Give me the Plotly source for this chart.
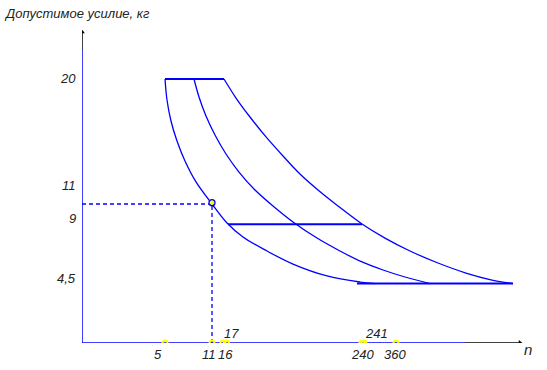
import plotly.graph_objects as go

# ---- data (schematic n-position along the x axis, force in kg) ----
curve_a_n = [83, 85, 89, 95, 103, 114, 130, 145, 161, 185, 211, 245, 278, 293]
curve_a_f = [20.0, 18.41, 16.82, 15.3, 13.79, 12.2, 10.53, 9.09, 8.03, 6.97, 5.98, 5.08, 4.62, 4.5]

curve_b_n = [112, 117, 124, 133, 144, 157, 172, 191, 211, 235, 258, 280, 301, 323, 348]
curve_b_f = [20.0, 18.64, 17.2, 15.76, 14.32, 12.95, 11.67, 10.38, 9.17, 7.95, 6.97, 6.14, 5.53, 5.0, 4.5]

curve_c_n = [142, 154, 168, 184, 201, 218, 236, 256, 280, 303, 328, 356, 384, 410, 431]
curve_c_f = [20.0, 18.56, 17.12, 15.61, 14.17, 12.8, 11.59, 10.38, 9.02, 7.95, 6.97, 6.06, 5.3, 4.77, 4.5]

top_line_n = [83, 142]
top_line_f = [20, 20]
mid_line_n = [146, 280]
mid_line_f = [9, 9]
bot_line_n = [275, 431]
bot_line_f = [4.5, 4.5]

work_point_n = 130
work_point_f = 10.53

x_tick_pos = [83, 130, 141, 144.5, 280, 282, 314]
x_tick_text = ["5", "11", "16", "17", "240", "241", "360"]
x_tick_above = [False, False, False, True, False, True, False]

y_tick_vals = [20, 11, 9, 4.5]
y_tick_text = ["20", "11", "9", "4,5"]

y_title = "Допустимое усилие, кг"
x_title = "n"

# ---- figure ----
BLUE = "#0000ff"
X_MAX = 441
Y_MAX = 313 / 13.2
font = dict(family="Liberation Sans, Arial, sans-serif", size=13, color="#222222", style="italic")

fig = go.Figure()

def line(xs, ys, width=1.3, dash="solid", color=BLUE, shape="linear"):
    fig.add_trace(go.Scatter(x=xs, y=ys, mode="lines",
                             line=dict(color=color, width=width, dash=dash, shape=shape),
                             hoverinfo="skip", showlegend=False))

# axes
axis_blue_top = (343 - 50) / 13.2
line([0, 0], [0, axis_blue_top], width=1.5)
line([0, 0], [axis_blue_top, Y_MAX - 0.1], width=1.5, color="black")
line([0, 383], [0, 0], width=1.5)
line([383, X_MAX - 2], [0, 0], width=1.5, color="black")
fig.add_trace(go.Scatter(x=[0], y=[Y_MAX - 0.15], mode="markers",
                         marker=dict(symbol="triangle-up", size=5, color="black"),
                         hoverinfo="skip", showlegend=False))
fig.add_trace(go.Scatter(x=[X_MAX - 3], y=[0], mode="markers",
                         marker=dict(symbol="triangle-right", size=5, color="black"),
                         hoverinfo="skip", showlegend=False))

# curves and limits
line(curve_a_n, curve_a_f, shape="spline")
line(curve_b_n, curve_b_f, shape="spline")
line(curve_c_n, curve_c_f, shape="spline")
line(top_line_n, top_line_f, width=2)
line(mid_line_n, mid_line_f, width=2)
line(bot_line_n, bot_line_f, width=2)

# dashed guides
line([0, work_point_n], [work_point_f, work_point_f], dash="4px,3px", width=1.3)
line([work_point_n, work_point_n], [0, work_point_f], dash="4px,3px", width=1.3)
fig.add_trace(go.Scatter(x=[work_point_n], y=[work_point_f + 0.1], mode="markers",
                         marker=dict(symbol="circle", size=6, color="#ffff00",
                                     line=dict(color=BLUE, width=1.3)),
                         hoverinfo="skip", showlegend=False))

# yellow points on x axis
fig.add_trace(go.Scatter(x=x_tick_pos, y=[0] * len(x_tick_pos), mode="markers",
                         marker=dict(symbol="circle-open", size=5, color="#ffff00",
                                     line=dict(color="#ffff00", width=2)),
                         hoverinfo="skip", showlegend=False))

annotations = []
shifts = {"5": -7, "11": -3, "16": 2, "17": 5, "240": 0, "241": 12, "360": -1}
for pos, txt, above in zip(x_tick_pos, x_tick_text, x_tick_above):
    annotations.append(dict(x=pos, y=0, xref="x", yref="y", text=txt, showarrow=False,
                            font=font, xshift=shifts[txt],
                            yshift=10 if above else -11))
y_shift = {"20": 1, "11": 12, "9": 6, "4,5": 5}
for v, txt in zip(y_tick_vals, y_tick_text):
    annotations.append(dict(x=0, y=v, xref="x", yref="y", text=txt, showarrow=False,
                            font=font, xanchor="right", xshift=-4, yshift=y_shift[txt]))
annotations.append(dict(x=0, y=1, xref="paper", yref="paper", text=y_title,
                        showarrow=False, font=font, xanchor="left", yanchor="middle",
                        xshift=-80, yshift=17))
annotations.append(dict(x=1, y=0, xref="paper", yref="y", text=x_title,
                        showarrow=False, font=dict(font, size=15), xanchor="left",
                        xshift=-1, yshift=-6))

fig.update_layout(
    width=547, height=370,
    margin=dict(l=82, r=24, t=30, b=27),
    paper_bgcolor="white", plot_bgcolor="white",
    xaxis=dict(range=[0, X_MAX], visible=False, fixedrange=True),
    yaxis=dict(range=[0, Y_MAX], visible=False, fixedrange=True),
    annotations=annotations,
    showlegend=False,
)

fig.write_html("out.html", config={"displayModeBar": False},
               post_script="document.body.style.margin='0';")
